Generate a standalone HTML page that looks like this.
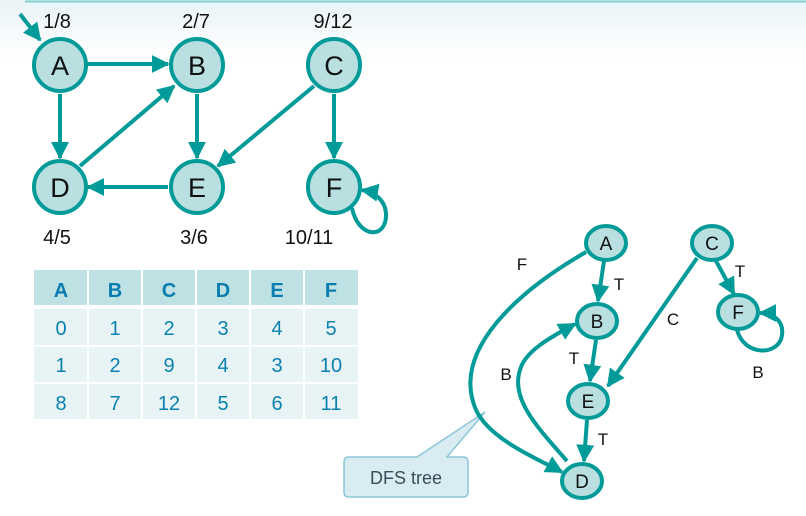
<!DOCTYPE html>
<html><head><meta charset="utf-8"><style>
html,body{margin:0;padding:0;background:#fff;}
svg{display:block;}
</style></head><body>
<svg width="806" height="516" viewBox="0 0 806 516" xmlns="http://www.w3.org/2000/svg">
<defs>
<linearGradient id="bg" x1="0" y1="0" x2="0" y2="1">
<stop offset="0" stop-color="#eaf4f6"/><stop offset="1" stop-color="#ffffff"/>
</linearGradient>
<marker id="ar" viewBox="0 0 10 10" refX="9" refY="5" markerWidth="4.5" markerHeight="4.5" orient="auto-start-reverse">
<path d="M0,0 L10,5 L0,10 z" fill="#009b98"/>
</marker>
</defs>
<rect x="0" y="0" width="806" height="60" fill="url(#bg)"/>
<line x1="25" y1="1.5" x2="806" y2="1.5" stroke="#7fcfd0" stroke-width="2"/>

<g stroke="#009b98" stroke-width="4" fill="none" marker-end="url(#ar)">
<line x1="20" y1="14" x2="40" y2="40"/>
<line x1="87" y1="64" x2="168" y2="64"/>
<line x1="60" y1="94" x2="60" y2="158"/>
<line x1="80" y1="166" x2="174" y2="86"/>
<line x1="197" y1="94" x2="197" y2="158"/>
<line x1="314" y1="86" x2="218" y2="166"/>
<line x1="334" y1="94" x2="334" y2="158"/>
<line x1="168" y1="187" x2="88" y2="187"/>
<path d="M352,208 C358,238 386,240 386,215 C386,200 374,192 362,190"/>
</g>
<g stroke="#009b98" stroke-width="4" fill="#b9dfe0">
<circle cx="60" cy="65" r="26"/><circle cx="197" cy="65" r="26"/><circle cx="334" cy="65" r="26"/>
<circle cx="60" cy="187" r="26"/><circle cx="197" cy="187" r="26"/><circle cx="334" cy="187" r="26"/>
</g>
<g font-family="Liberation Sans, sans-serif" font-size="27" text-anchor="middle" fill="#111">
<text x="60" y="75">A</text><text x="197" y="75">B</text><text x="334" y="75">C</text>
<text x="60" y="197">D</text><text x="197" y="197">E</text><text x="334" y="197">F</text>
</g>
<g font-family="Liberation Sans, sans-serif" font-size="20" text-anchor="middle" fill="#111">
<text x="57" y="28">1/8</text><text x="196" y="28">2/7</text><text x="333" y="28">9/12</text>
<text x="57" y="244">4/5</text><text x="194" y="244">3/6</text><text x="309" y="244">10/11</text>
</g>

<!-- table -->
<g>
<rect x="34" y="270" width="324" height="35" fill="#bee1e3"/>
<rect x="34" y="309" width="324" height="110" fill="#e8f3f5"/>
</g>
<g stroke="#fff" stroke-width="2">
<line x1="88" y1="270" x2="88" y2="420"/><line x1="142" y1="270" x2="142" y2="420"/><line x1="196" y1="270" x2="196" y2="420"/><line x1="250" y1="270" x2="250" y2="420"/><line x1="304" y1="270" x2="304" y2="420"/>
<line x1="34" y1="346" x2="358" y2="346"/><line x1="34" y1="383" x2="358" y2="383"/>
</g>
<g font-family="Liberation Sans, sans-serif" font-size="20" text-anchor="middle" fill="#0a82b0">
<g font-weight="bold" fill="#0a7db0"><text x="61" y="297">A</text><text x="115" y="297">B</text><text x="169" y="297">C</text><text x="223" y="297">D</text><text x="277" y="297">E</text><text x="331" y="297">F</text></g>
<text x="61" y="335">0</text><text x="115" y="335">1</text><text x="169" y="335">2</text><text x="223" y="335">3</text><text x="277" y="335">4</text><text x="331" y="335">5</text>
<text x="61" y="372">1</text><text x="115" y="372">2</text><text x="169" y="372">9</text><text x="223" y="372">4</text><text x="277" y="372">3</text><text x="331" y="372">10</text>
<text x="61" y="410">8</text><text x="115" y="410">7</text><text x="169" y="410">12</text><text x="223" y="410">5</text><text x="277" y="410">6</text><text x="331" y="410">11</text>
</g>

<!-- callout -->
<path d="M348,457 L417,457 L485,412 L447,457 L463,457 Q468,457 468,462 L468,492 Q468,497 463,497 L349,497 Q344,497 344,492 L344,462 Q344,457 349,457 z" fill="#d9ecf2" stroke="#8ec6d9" stroke-width="1.5"/>
<text x="406" y="484" font-family="Liberation Sans, sans-serif" font-size="18" text-anchor="middle" fill="#3a4a5a">DFS tree</text>

<!-- right tree -->
<g stroke="#009b98" stroke-width="4" fill="none" marker-end="url(#ar)">
<line x1="604" y1="261" x2="598" y2="301"/>
<line x1="596" y1="340" x2="590" y2="381"/>
<line x1="587" y1="420" x2="584" y2="461"/>
<line x1="716" y1="261" x2="734" y2="294"/>
<line x1="697" y1="258" x2="608" y2="386"/>
<path d="M586,252 C520,290 450,350 476,410 C490,440 540,460 562,472"/>
<path d="M567,461 C540,430 510,400 520,370 C525,350 555,335 575,324"/>
<path d="M737,330 C745,358 780,355 782,335 C784,320 772,313 760,313"/>
</g>
<g stroke="#009b98" stroke-width="4" fill="#b9dfe0">
<ellipse cx="606" cy="243" rx="20" ry="17"/><ellipse cx="597" cy="321" rx="20" ry="17"/>
<ellipse cx="588" cy="401" rx="20" ry="17"/><ellipse cx="582" cy="481" rx="20" ry="17"/>
<ellipse cx="712" cy="243" rx="20" ry="17"/><ellipse cx="738" cy="312" rx="20" ry="17"/>
</g>
<g font-family="Liberation Sans, sans-serif" font-size="19" text-anchor="middle" fill="#111">
<text x="606" y="250">A</text><text x="597" y="328">B</text><text x="588" y="408">E</text><text x="582" y="488">D</text><text x="712" y="250">C</text><text x="738" y="319">F</text>
</g>
<g font-family="Liberation Sans, sans-serif" font-size="17" text-anchor="middle" fill="#111">
<text x="522" y="270">F</text><text x="619" y="290">T</text><text x="574" y="364">T</text><text x="506" y="380">B</text>
<text x="603" y="445">T</text><text x="673" y="325">C</text><text x="740" y="277">T</text><text x="758" y="378">B</text>
</g>
</svg>
</body></html>
